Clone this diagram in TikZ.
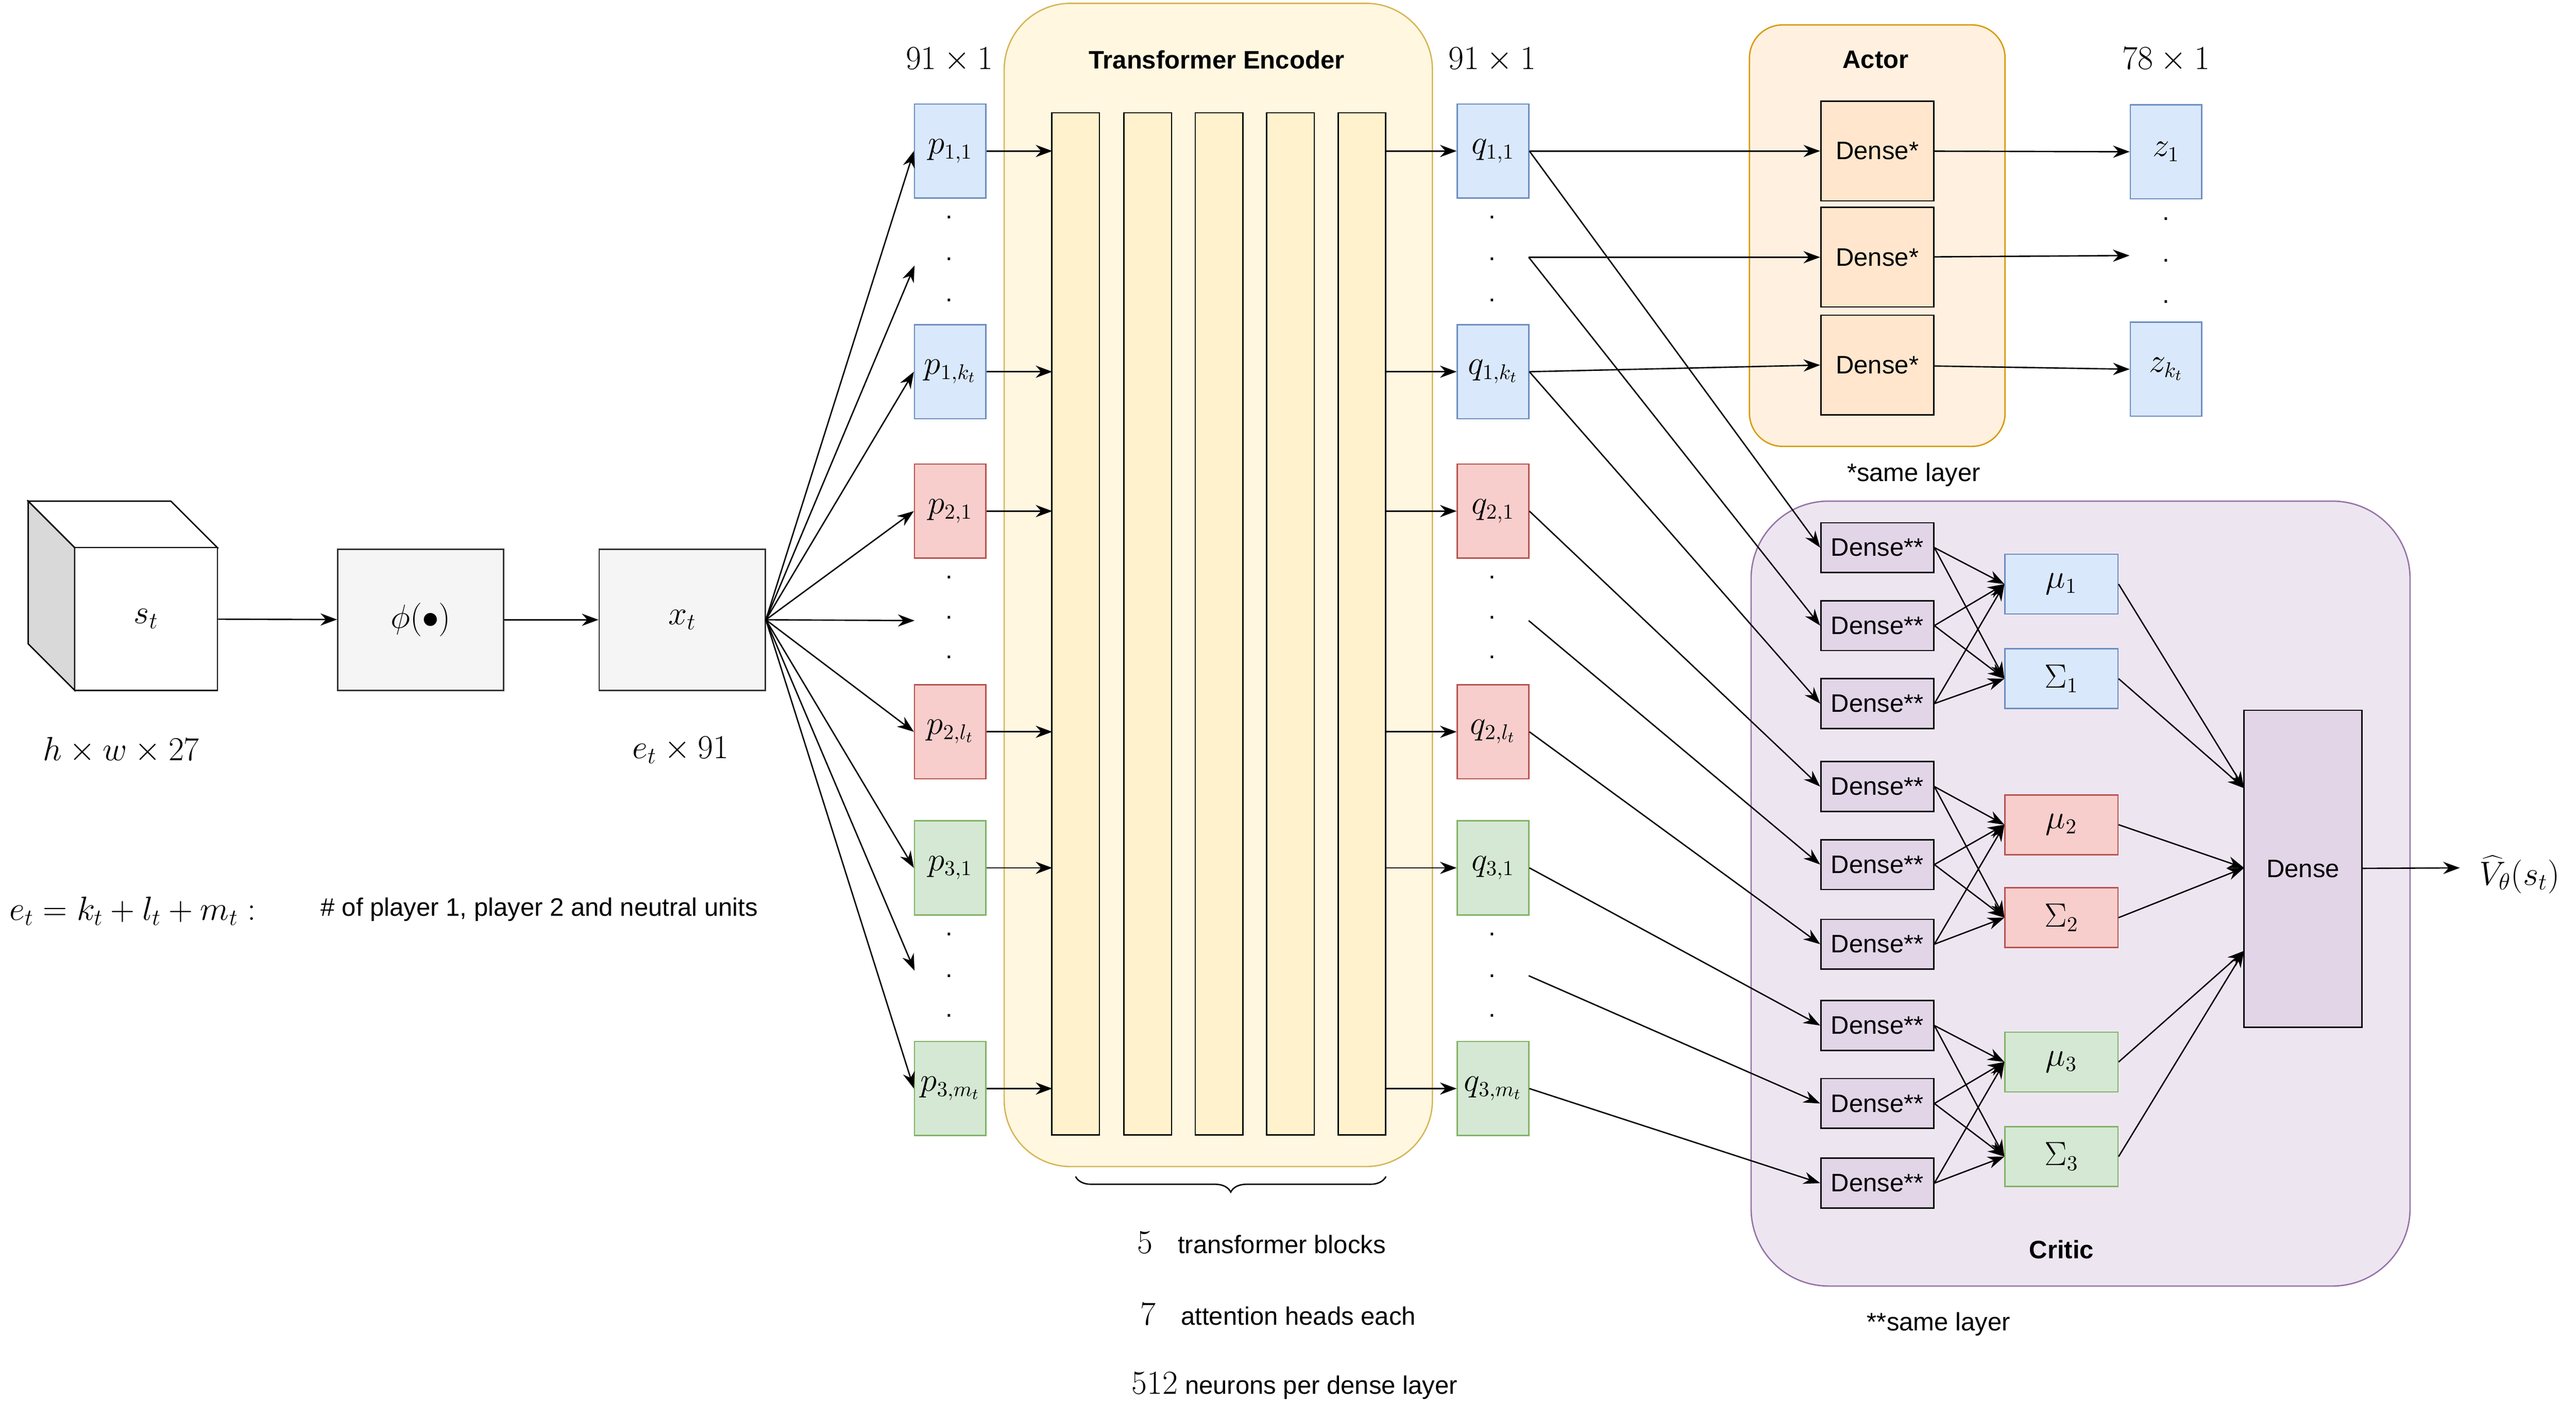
\documentclass[tikz,border=0pt]{standalone}
\usepackage{fontspec}
\setmainfont{Liberation Sans}
\usetikzlibrary{arrows.meta,decorations.pathreplacing}
\definecolor{bF}{HTML}{DAE8FC}\definecolor{bD}{HTML}{6C8EBF}
\definecolor{rF}{HTML}{F8CECC}\definecolor{rD}{HTML}{B85450}
\definecolor{gF}{HTML}{D5E8D4}\definecolor{gD}{HTML}{82B366}
\definecolor{yF}{HTML}{FFF2CC}\definecolor{yD}{HTML}{D6B656}
\definecolor{oF}{HTML}{FFE6CC}\definecolor{oD}{HTML}{D79B00}
\definecolor{pF}{HTML}{E1D5E7}\definecolor{pD}{HTML}{9673A6}
\begin{document}
\begin{tikzpicture}[x=0.03cm,y=-0.03cm,font=\fontsize{13}{15}\selectfont,
 ar/.style={-{Stealth[length=3mm,width=2.2mm]},line width=0.7pt},
 vec/.style={draw=#1D,fill=#1F,minimum width=1.29cm,minimum height=1.7cm,inner sep=0,line width=0.7pt,font=\fontsize{16}{18}\selectfont},
 gb/.style={draw=black!80,fill=black!4,minimum width=3cm,minimum height=2.55cm,line width=0.7pt,font=\fontsize{18}{20}\selectfont},
 col/.style={draw=black,fill=yF,minimum width=0.86cm,minimum height=18.48cm,inner sep=0,line width=0.7pt},
 dA/.style={draw=black,fill=oF,minimum width=2.04cm,minimum height=1.8cm,inner sep=0,line width=0.7pt},
 dC/.style={draw=black,fill=pF,minimum width=2.04cm,minimum height=0.9cm,inner sep=0,line width=0.7pt},
 ms/.style={draw=#1D,fill=#1F,minimum width=2.04cm,minimum height=1.08cm,inner sep=0,line width=0.7pt,font=\fontsize{16}{18}\selectfont},
 mt/.style={font=\fontsize{18}{20}\selectfont},
 dt/.style={font=\fontsize{13}{15}\selectfont}]
\useasboundingbox (0,0) rectangle (1552,855);
% cube
\fill[black!15] (17,302)--(45,330)--(45,416)--(17,388)--cycle;
\draw[line width=0.7pt,fill=white] (17,302)--(103,302)--(131,330)--(45,330)--cycle;
\draw[line width=0.7pt] (17,302)--(45,330)--(45,416)--(17,388)--cycle;
\node[draw,line width=0.7pt,fill=white,minimum width=2.58cm,minimum height=2.58cm,inner sep=0,font=\fontsize{18}{20}\selectfont] (s) at (88,373) {$s_t$};
\node[gb] (phi) at (253.5,373.5) {$\phi(\bullet)$};
\node[gb] (x) at (411,373.5) {$x_t$};
\draw[ar] (s) -- (phi); \draw[ar] (phi) -- (x);
\node[mt] at (73,452) {$h\times w\times 27$};
\node[mt] at (410,452) {$e_t\times 91$};
\node[mt] at (80,549) {$e_t=k_t+l_t+m_t:$};
\node at (325,548) {\# of player 1, player 2 and neutral units};
% encoder
\draw[yD,fill=yF!60,line width=0.7pt,rounded corners=1.2cm] (605,2) rectangle (863,703);
\node[font=\fontsize{13}{15}\selectfont\bfseries] (te) at (733,36) {Transformer Encoder};
\foreach \i/\xx in {1/648,2/691.5,3/734.5,4/777.5,5/820.5}{\node[col] (c\i) at (\xx,376) {};}
\draw[decorate,decoration={brace,amplitude=8pt,mirror},line width=0.7pt] (648,709) -- (835,709);
\node at (760,749) {{\fontsize{18}{20}\selectfont$5$}\quad transformer blocks};
\node at (770,792) {{\fontsize{18}{20}\selectfont$7$}\quad attention heads each};
\node at (780,835) {{\fontsize{18}{20}\selectfont$512$} neurons per dense layer};
\node[mt] at (572,36) {$91\times 1$};
\node[mt] at (899,36) {$91\times 1$};
% p and q
\foreach \n/\yy/\c/\lab/\qlab in {a/91/b/{p_{1,1}}/{q_{1,1}},b/224/b/{p_{1,k_t}}/{q_{1,k_t}},c/308/r/{p_{2,1}}/{q_{2,1}},d/441/r/{p_{2,l_t}}/{q_{2,l_t}},e/523/g/{p_{3,1}}/{q_{3,1}},f/656/g/{p_{3,m_t}}/{q_{3,m_t}}}{
 \node[vec=\c] (p\n) at (572.5,\yy) {$\lab$};
 \node[vec=\c] (q\n) at (899.5,\yy) {$\qlab$};
 \coordinate (pe\n) at (634,\yy); \coordinate (qs\n) at (835,\yy);
 \draw[ar] (p\n.east) -- (pe\n); \draw[ar] (qs\n) -- (q\n.west);}
\foreach \yy in {135,160,185,352,376,400,567,592,616}{\node[dt] at (572,\yy-4) {.}; \node[dt] at (899,\yy-4) {.};}
\coordinate (pd1) at (551,160); \coordinate (pd2) at (551,374); \coordinate (pd3) at (551,585);
\foreach \t in {pa.west,pd1,pb.west,pc.west,pd2,pd.west,pe.west,pd3,pf.west}{\draw[ar] (x.east) -- (\t);}
% actor
\draw[oD,fill=oF!60,line width=0.7pt,rounded corners=0.6cm] (1054,15) rectangle (1208,269);
\node[font=\fontsize{13}{15}\selectfont\bfseries] at (1130,36) {Actor};
\node[dA] (A1) at (1131,91) {Dense*};
\node[dA] (A2) at (1131,155) {Dense*};
\node[dA] (A3) at (1131,220) {Dense*};
\node at (1153,286) {*same layer};
\node[vec=b] (z1) at (1305,91.5) {$z_1$};
\node[vec=b] (z2) at (1305,222.5) {$z_{k_t}$};
\foreach \yy in {136,161,186}{\node[dt] at (1305,\yy-4) {.};}
\node[mt] at (1305,36) {$78\times 1$};
\coordinate (qd1) at (921,155); \coordinate (qd2) at (921,374); \coordinate (qd3) at (921,588);
\coordinate (zd) at (1283,154);
\draw[ar] (qa.east) -- (A1); \draw[ar] (qd1) -- (A2); \draw[ar] (qb.east) -- (A3.west);
\draw[ar] (A1) -- (z1); \draw[ar] (A2) -- (zd); \draw[ar] (A3) -- (z2.west);
% critic
\draw[pD,fill=pF!60,line width=0.7pt,rounded corners=1.4cm] (1055,302) rectangle (1452,775);
\node[font=\fontsize{13}{15}\selectfont\bfseries] at (1242,753) {Critic};
\node at (1168,798) {**same layer};
\foreach \i/\yy in {1/330,2/377,3/424,4/474,5/521,6/569,7/618,8/665,9/713}{\node[dC] (C\i) at (1131,\yy) {Dense**};}
\node[ms=b] (m1) at (1242,352) {$\mu_1$};
\node[ms=b] (S1) at (1242,409) {$\Sigma_1$};
\node[ms=r] (m2) at (1242,497) {$\mu_2$};
\node[ms=r] (S2) at (1242,553) {$\Sigma_2$};
\node[ms=g] (m3) at (1242,640) {$\mu_3$};
\node[ms=g] (S3) at (1242,697) {$\Sigma_3$};
\node[draw,fill=pF,line width=0.7pt,minimum width=2.13cm,minimum height=5.73cm] (D) at (1387.5,523.5) {Dense};
\coordinate (V) at (1482,523);
\node[mt,inner sep=0pt] at (1518,527) {$\widehat V_\theta(s_t)$};
\draw[ar] (D) -- (V);
\foreach \s/\t in {qa.east/C1,qd1/C2,qb.east/C3,qc.east/C4,qd2/C5,qd.east/C6,qe.east/C7,qd3/C8,qf.east/C9}{\draw[ar] (\s) -- (\t.west);}
\foreach \g/\a/\b/\c in {1/1/2/3,2/4/5/6,3/7/8/9}{
 \foreach \k in {\a,\b,\c}{\draw[ar] (C\k.east) -- (m\g.west); \draw[ar] (C\k.east) -- (S\g.west);}}
\coordinate (D1) at (1352,475); \coordinate (D2) at (1352,523); \coordinate (D3) at (1352,573);
\foreach \g in {1,2,3}{\draw[ar] (m\g.east) -- (D\g); \draw[ar] (S\g.east) -- (D\g);}
\end{tikzpicture}
\end{document}
